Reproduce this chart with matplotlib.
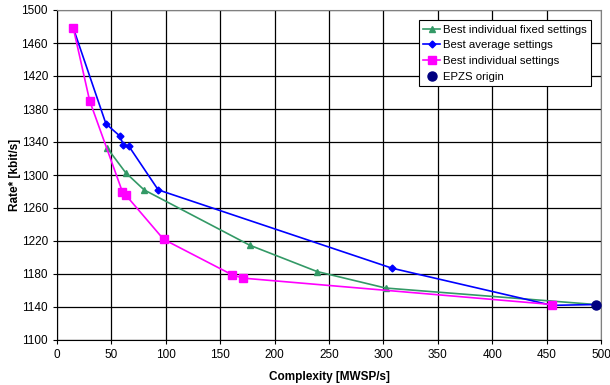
import matplotlib
matplotlib.use("Agg")
import matplotlib.pyplot as plt

plt.rcParams['font.family'] = ['Liberation Sans', 'DejaVu Sans']

fixed_x = [46, 63, 80, 177, 239, 302, 495]
fixed_y = [1333, 1303, 1282, 1215, 1183, 1163, 1143]

avg_x = [15, 45, 58, 61, 66, 93, 308, 455, 495]
avg_y = [1478, 1362, 1347, 1336, 1335, 1282, 1187, 1142, 1143]

ind_x = [15, 30, 60, 63, 98, 161, 171, 455]
ind_y = [1478, 1390, 1280, 1276, 1222, 1179, 1175, 1143]

epzs_x = [495]
epzs_y = [1143]

fig = plt.figure(figsize=(6.1, 3.85), dpi=100)
ax = fig.add_axes([57/610, 1-340/385, 544/610, 330/385])

ax.plot(fixed_x, fixed_y, color='#339966', marker='^', markersize=5, lw=1.2,
        label='Best individual fixed settings', zorder=3)
ax.plot(avg_x, avg_y, color='#0000FF', marker='D', markersize=3.5, lw=1.2,
        label='Best average settings', zorder=4)
ax.plot(ind_x, ind_y, color='#FF00FF', marker='s', markersize=5.5, lw=1.2,
        label='Best individual settings', zorder=5)
ax.plot(epzs_x, epzs_y, color='#000080', marker='o', markersize=6.5, lw=0,
        label='EPZS origin', zorder=6)

ax.set_xlim(0, 500)
ax.set_ylim(1100, 1500)
ax.set_xticks(range(0, 501, 50))
ax.set_yticks(range(1100, 1501, 40))
ax.grid(True, color='black', lw=0.9)
ax.set_axisbelow(True)
for s in ax.spines.values():
    s.set_color('#808080')
ax.spines['left'].set_color('black')
ax.spines['bottom'].set_color('black')
ax.tick_params(labelsize=8.5, length=3, direction='out')

ax.set_xlabel('Complexity [MWSP/s]', fontsize=8.5, fontweight='bold', labelpad=7.5)
ax.set_ylabel('Rate* [kbit/s]', fontsize=8.5, fontweight='bold', labelpad=0.5)

leg = ax.legend(loc='upper right', bbox_to_anchor=(591/544 - 57/544, 1-10/330), fontsize=8.2,
                frameon=True, fancybox=False, edgecolor='black', framealpha=1,
                borderpad=0.4, labelspacing=0.5, handlelength=1.5, handletextpad=0.2,
                borderaxespad=0)
leg.get_frame().set_linewidth(0.8)

fig.savefig('out.png', dpi=100)
